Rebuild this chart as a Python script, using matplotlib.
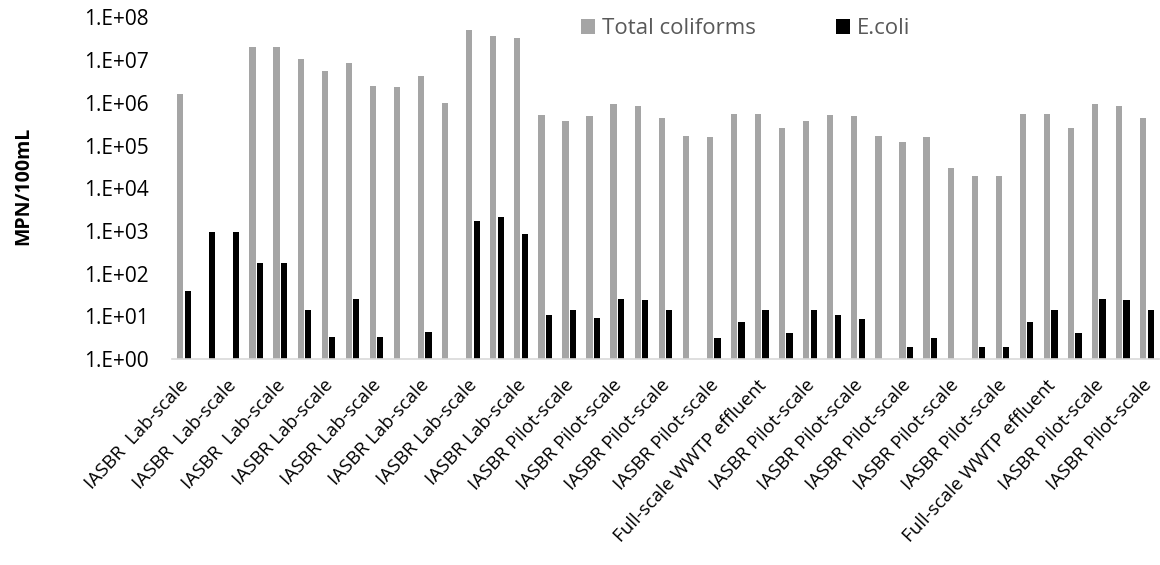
import numpy as np
import matplotlib
matplotlib.use("Agg")
import matplotlib.pyplot as plt
import matplotlib.transforms as mtransforms
from matplotlib.ticker import FixedLocator, FuncFormatter, NullLocator

# Sample labels (every other sample is labelled on the axis)
shown_labels = [
    "IASBR  Lab-scale", "IASBR  Lab-scale", "IASBR  Lab-scale",
    "IASBR Lab-scale", "IASBR Lab-scale", "IASBR Lab-scale",
    "IASBR Lab-scale", "IASBR Lab-scale",
    "IASBR Pilot-scale", "IASBR Pilot-scale", "IASBR Pilot-scale",
    "IASBR Pilot-scale", "Full-scale WWTP effluent",
    "IASBR Pilot-scale", "IASBR Pilot-scale", "IASBR Pilot-scale",
    "IASBR Pilot-scale", "IASBR Pilot-scale", "Full-scale WWTP effluent",
    "IASBR Pilot-scale", "IASBR Pilot-scale",
]

nan = np.nan
# MPN/100mL per sample
total_coliforms = [
    1.6e6, nan, nan, 2.0e7, 2.0e7, 1.05e7, 5.6e6, 8.4e6, 2.5e6, 2.3e6,
    4.2e6, 1.0e6, 5.2e7, 3.7e7, 3.3e7, 5.2e5, 3.7e5, 4.8e5, 9.4e5, 8.6e5,
    4.5e5, 1.7e5, 1.6e5, 5.6e5, 5.6e5, 2.6e5, 3.7e5, 5.2e5, 4.8e5, 1.7e5,
    1.23e5, 1.6e5, 3.0e4, 1.95e4, 1.95e4, 5.6e5, 5.6e5, 2.6e5, 9.4e5, 8.6e5,
    4.5e5,
]
e_coli = [
    40, 940, 940, 174, 174, 14, 3.2, 25, 3.2, nan,
    4.2, nan, 1740, 2130, 850, 11, 14, 9, 25, 24.6,
    14, nan, 3.1, 7.5, 14, 4.1, 14, 11, 8.5, nan,
    1.9, 3.1, nan, 1.9, 1.9, 7.5, 14, 4.1, 25, 24.6,
    14,
]

W, H = 1160, 565
fig = plt.figure(figsize=(W / 100, H / 100), dpi=100)
ax = fig.add_axes([172 / W, 1 - 359 / H, 987 / W, (359 - 17.4) / H])

font = "Open Sans"
x = np.arange(len(total_coliforms))
bw = 0.26
off = 0.155
ax.bar(x - off, total_coliforms, width=bw, color="#A5A5A5", label="Total coliforms", zorder=2)
ax.bar(x + off, e_coli, width=bw, color="#000000", label="E.coli", zorder=2)

ax.set_yscale("log")
ax.set_ylim(1, 1e8)
ax.set_xlim(-0.5, len(total_coliforms) - 0.5)

ax.yaxis.set_major_locator(FixedLocator([10.0 ** k for k in range(0, 9)]))
ax.yaxis.set_minor_locator(NullLocator())
ax.yaxis.set_major_formatter(FuncFormatter(lambda v, p: "1.E+%02d" % int(round(np.log10(v)))))
ax.tick_params(axis="y", length=0, pad=16.5, labelsize=15, labelcolor="#000000")
for t in ax.get_yticklabels():
    t.set_fontfamily(font)

ax.set_xticks(x[::2])
ax.set_xticklabels(shown_labels, rotation=47, ha="right", va="top",
                   rotation_mode="anchor", fontsize=13.5, fontfamily=font)
ax.tick_params(axis="x", length=0, pad=6)
shift = mtransforms.ScaledTranslation(-5 / 100, -9 / 100, fig.dpi_scale_trans)
for t in ax.get_xticklabels():
    t.set_transform(t.get_transform() + shift)

for s in ["left", "right", "top"]:
    ax.spines[s].set_visible(False)
ax.spines["bottom"].set_color("#D9D9D9")
ax.spines["bottom"].set_linewidth(1.2)

fig.text(23 / W, 1 - 186 / H, "MPN/100mL", rotation=90, ha="center", va="center",
         fontsize=14, fontweight="bold", fontfamily=font)

leg = fig.legend(loc="center", bbox_to_anchor=(746 / W, 1 - 29 / H), ncol=2,
                 frameon=False, handlelength=0.63, handleheight=0.63,
                 handletextpad=0.32, columnspacing=3.6,
                 prop={"family": font, "size": 16})
for t in leg.get_texts():
    t.set_color("#595959")

fig.savefig("out.png", dpi=100)
